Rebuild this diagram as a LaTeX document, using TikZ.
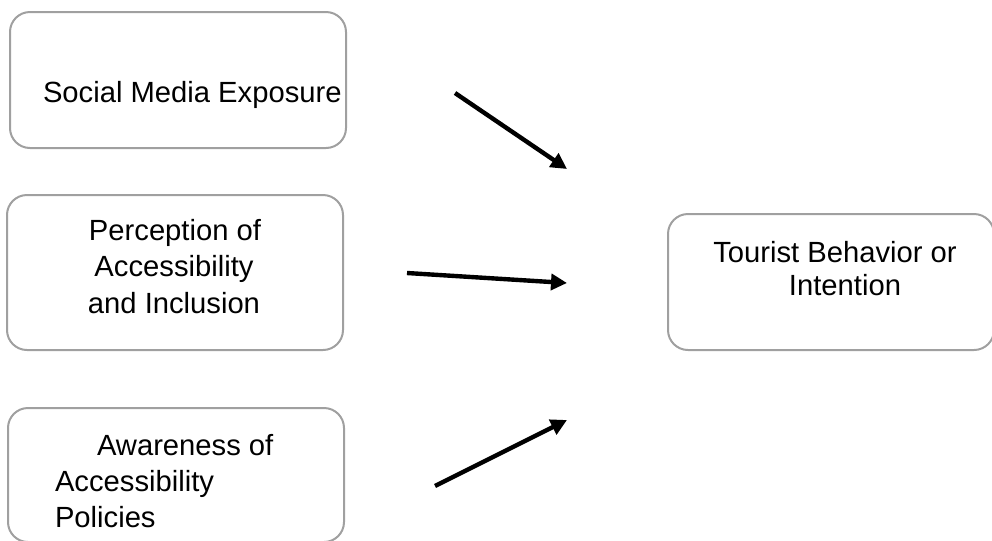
\documentclass[tikz,border=0pt]{standalone}
\usepackage{fontspec}
\setmainfont{Liberation Sans}
\usetikzlibrary{arrows.meta}
\definecolor{boxgray}{HTML}{A0A0A0}
\begin{document}
\begin{tikzpicture}[x=0.75pt,y=-0.75pt,
  box/.style={draw=boxgray,line width=1.5pt,rounded corners=15pt,inner sep=0pt,outer sep=0pt,fill=none},
  lbl/.style={font=\fontsize{21.9pt}{27pt}\selectfont,inner sep=0pt,outer sep=0pt},
  conn/.style={line width=3.3pt,-{Triangle[length=12pt,width=12pt]}}]
\useasboundingbox (0,0) rectangle (992,540);
% boxes
\node[box,minimum width=252pt,minimum height=102pt] (b1) at (178,80) {};
\node[box,minimum width=252pt,minimum height=116.25pt] (b2) at (175,272.5) {};
\node[box,minimum width=252pt,minimum height=100.5pt] (b3) at (176,475) {};
\node[box,minimum width=244.5pt,minimum height=102pt] (b4) at (831,282) {};
% labels
\node[lbl,anchor=base west] (t1) at (43,102) {Social Media Exposure};
\node[lbl,anchor=base] (t2a) at (175,240) {Perception of};
\node[lbl,anchor=base] (t2b) at (174,276) {Accessibility};
\node[lbl,anchor=base] (t2c) at (174,313) {and Inclusion};
\node[lbl,anchor=base west] (t3a) at (97,455) {Awareness of};
\node[lbl,anchor=base west] (t3b) at (55,491) {Accessibility};
\node[lbl,anchor=base west] (t3c) at (55,527) {Policies};
\node[lbl,anchor=base] (t4a) at (835,262) {Tourist Behavior or};
\node[lbl,anchor=base] (t4b) at (845,295) {Intention};
% arrows
\coordinate (a1s) at (455,93);
\coordinate (a1e) at (567,169);
\coordinate (a2s) at (407,273);
\coordinate (a2e) at (567,283);
\coordinate (a3s) at (435,486);
\coordinate (a3e) at (567,420);
\draw[conn] (a1s) -- (a1e);
\draw[conn] (a2s) -- (a2e);
\draw[conn] (a3s) -- (a3e);
\end{tikzpicture}
\end{document}
